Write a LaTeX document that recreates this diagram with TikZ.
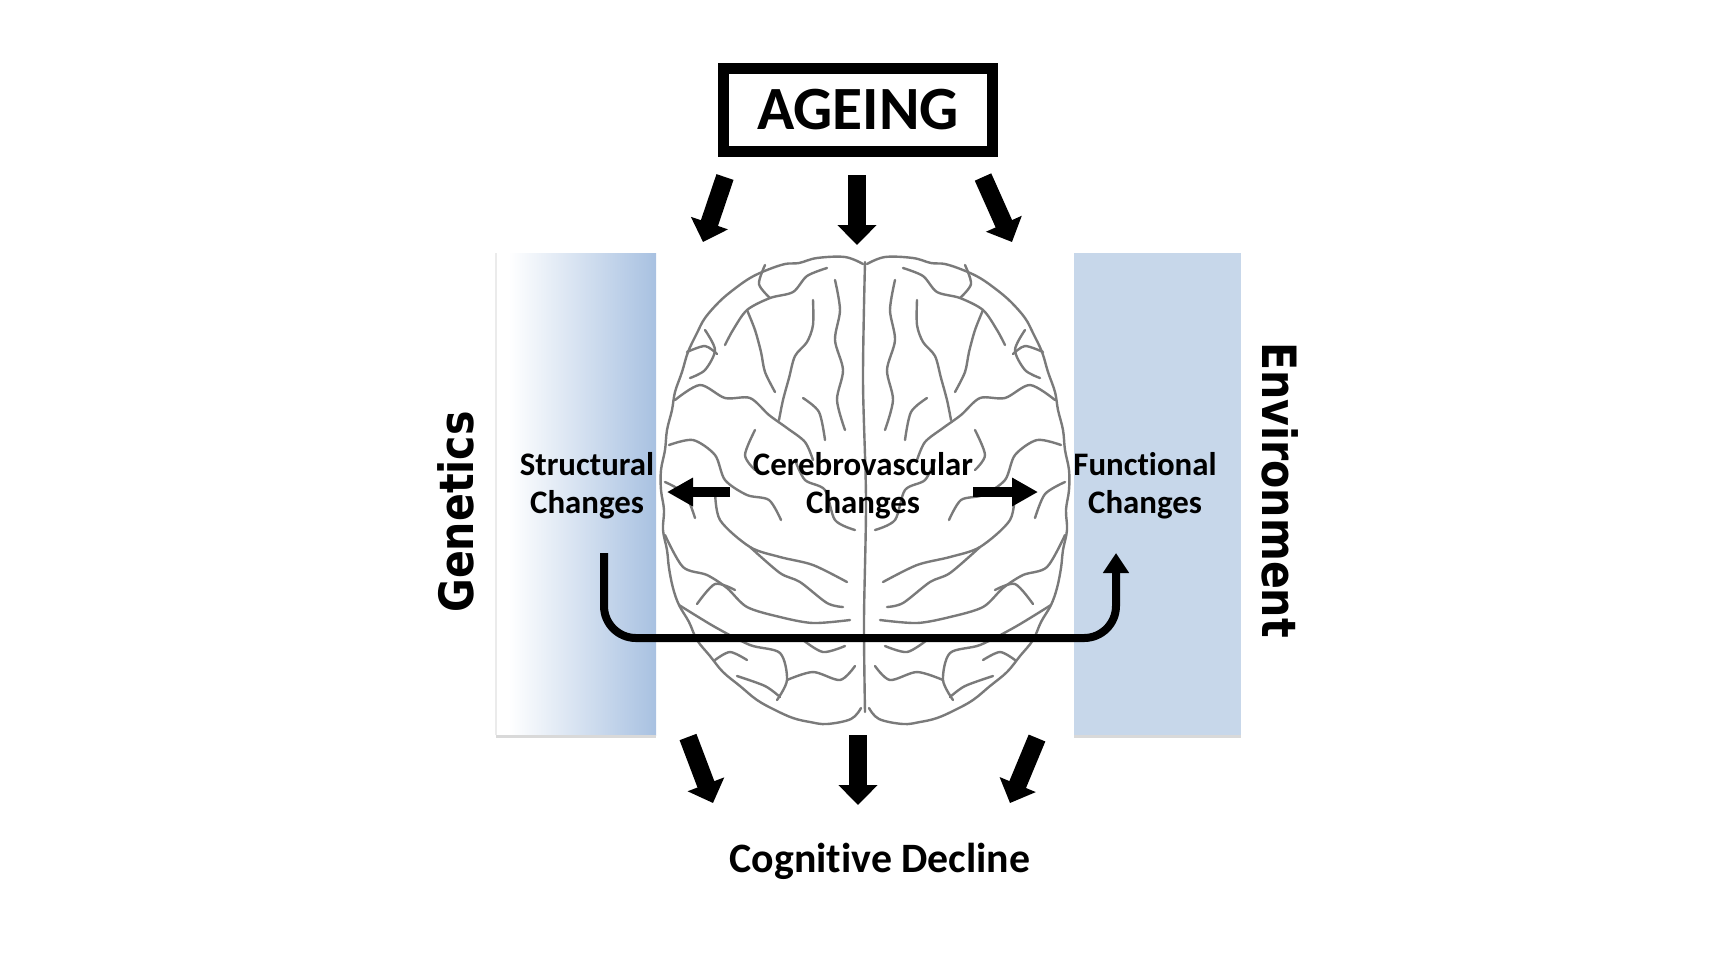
\documentclass[tikz,border=0pt]{standalone}
\usepackage{fontspec}
\usepackage{graphicx}
\setmainfont{Carlito}[Ligatures=NoCommon]
\newfontfamily\widefont{DejaVu Sans}
\usetikzlibrary{arrows.meta}

\definecolor{leftblue}{RGB}{168,193,225}
\definecolor{rightblue}{RGB}{199,215,234}
\pgfdeclarehorizontalshading{panelfade}{100bp}{color(0bp)=(white); color(25bp)=(white); color(29bp)=(white); color(75bp)=(leftblue); color(100bp)=(leftblue)}

\tikzset{
    changes/.style={align=center, inner sep=0pt, font=\bfseries\fontsize{9.35}{10.8}\selectfont},
    sidelabel/.style={inner sep=0pt, font=\widefont\bfseries\fontsize{11.7}{14}\selectfont},
    blockarrow/.style={line width=1.8mm, -{Triangle[width=3.8mm,length=2mm]}},
    sidearrow/.style={line width=1mm, -{Triangle[width=2.7mm,length=2.6mm]}},
    uarrow/.style={line width=0.8mm, rounded corners=3.2mm, -{Triangle[width=2.5mm,length=2mm]}},
    brainline/.style={draw=black!52, line width=0.24mm, line join=round, line cap=round},
    panelshadow/.style={draw=black!15, line width=0.3mm},
}

\begin{document}
\begin{tikzpicture}[x=0.1mm, y=-0.1mm]
    \fill[white] (0,0) rectangle (1710,962);
    \useasboundingbox (0,0) rectangle (1710,962);

    % side panels
    \shade[shading=panelfade] (496,253) rectangle (656,735);
    \fill[rightblue] (1074,253) rectangle (1241,735);
    \draw[panelshadow] (496,736) -- (656,736);
    \draw[panelshadow] (1074,736) -- (1241,736);
    \draw[draw=black!8, line width=0.2mm] (496,253) -- (496,735);

    % brain, left half mirrored to the right
    \foreach \s in {1,-1} {
        \begin{scope}[shift={(865,0)}, xscale=\s]
            \draw[brainline] plot[smooth, tension=0.6] coordinates {(-2,264) (-20,257) (-48,258) (-66,263) (-80,264) (-98,270) (-115,278) (-132,290) (-146,302) (-160,318) (-168,333) (-177,352) (-183,372) (-190,392) (-193,410) (-198,430) (-200,450) (-204,470) (-204,490) (-201,510) (-202,530) (-198,550) (-196,568) (-192,588) (-186,605) (-176,622) (-168,640) (-155,656) (-142,672) (-125,686) (-108,700) (-90,710) (-72,718) (-55,722) (-38,724) (-14,719) (-4,708)};
            \draw[brainline] plot[smooth] coordinates {(-38,268) (-58,276) (-72,292) (-95,298) (-118,310) (-132,330) (-140,345)};
            \draw[brainline] plot[smooth] coordinates {(-52,300) (-52,325) (-58,342) (-70,356) (-76,378) (-82,400) (-86,420)};
            \draw[brainline] plot[smooth] coordinates {(-118,310) (-110,330) (-104,352) (-100,372) (-90,392)};
            \draw[brainline] plot[smooth] coordinates {(-190,400) (-165,385) (-140,398) (-115,398) (-96,415) (-78,428) (-60,442) (-52,460)};
            \draw[brainline] plot[smooth] coordinates {(-196,445) (-172,440) (-150,455) (-140,480) (-118,495) (-96,500) (-84,520)};
            \draw[brainline] plot[smooth] coordinates {(-160,330) (-150,350) (-160,370) (-175,378)};
            \draw[brainline] plot[smooth] coordinates {(-30,280) (-25,310) (-30,340) (-22,370) (-28,400) (-20,430)};
            \draw[brainline] plot[smooth] coordinates {(-150,490) (-145,520) (-115,547) (-85,557) (-52,565) (-18,582)};
            \draw[brainline] plot[smooth] coordinates {(-200,535) (-182,567) (-158,575) (-138,588) (-118,607) (-85,617) (-52,623) (-15,620)};
            \draw[brainline] plot[smooth] coordinates {(-115,547) (-85,573) (-65,582) (-38,603) (-22,607)};
            \draw[brainline] plot[smooth] coordinates {(-186,605) (-150,627) (-115,645) (-85,653) (-78,680) (-88,700)};
            \draw[brainline] plot[smooth] coordinates {(-78,680) (-52,672) (-25,680) (-10,666)};
            \draw[brainline] plot[smooth] coordinates {(-128,676) (-100,686) (-85,697)};
            \draw[brainline] plot[smooth] coordinates {(-70,460) (-60,480) (-40,490) (-30,520) (-10,530)};
            \draw[brainline] plot[smooth] coordinates {(-110,430) (-120,455) (-110,470)};
            \draw[brainline] plot[smooth] coordinates {(-100,265) (-106,284) (-95,298)};
            \draw[brainline] plot[smooth] coordinates {(-178,352) (-160,346) (-148,354)};
            \draw[brainline] plot[smooth] coordinates {(-200,482) (-180,494) (-170,518)};
            \draw[brainline] plot[smooth] coordinates {(-62,398) (-46,412) (-40,440)};
            \draw[brainline] plot[smooth] coordinates {(-168,604) (-150,584) (-130,590)};
            \draw[brainline] plot[smooth] coordinates {(-62,640) (-42,652) (-20,646)};
            \draw[brainline] plot[smooth] coordinates {(-150,660) (-135,652) (-118,660)};
        \end{scope}
    }
    \draw[brainline] plot[smooth] coordinates {(865,262) (863,380) (866,500) (864,620) (865,712)};

    % labels
    \node[draw, line width=1.1mm, minimum width=26.9mm, minimum height=8.35mm, inner sep=0pt, font=\bfseries\fontsize{17.5}{20}\selectfont] (ageing) at (858,110) {AGEING};
    \node[changes] (structural) at (587,486) {Structural\\Changes};
    \node[changes] (cerebro) at (863,486) {Cerebrovascular\\Changes};
    \node[changes] (functional) at (1145,486) {Functional\\Changes};
    \node[sidelabel, rotate=90] (genetics) at (456,512) {\scalebox{1}[1.15]{Genetics}};
    \node[sidelabel, rotate=-90] (environment) at (1280,490) {\scalebox{1}[1.15]{Environment}};
    \node[anchor=base, font=\bfseries\fontsize{11.9}{14}\selectfont] (decline) at (880,872) {Cognitive Decline};

    % arrow ends
    \coordinate (in1) at (725,177);   \coordinate (in1e) at (703,242);
    \coordinate (in2) at (857,175);   \coordinate (in2e) at (857,245);
    \coordinate (in3) at (983,177);   \coordinate (in3e) at (1012,242);
    \coordinate (out1) at (688,737);  \coordinate (out1e) at (713,803);
    \coordinate (out2) at (858,735);  \coordinate (out2e) at (858,805);
    \coordinate (out3) at (1037,738); \coordinate (out3e) at (1010,803);
    \coordinate (toleft) at (730,492);  \coordinate (tolefte) at (667,492);
    \coordinate (toright) at (973,492); \coordinate (torighte) at (1038,492);
    \coordinate (ustart) at (604,553);  \coordinate (uend) at (1116,553);

    \draw[blockarrow] (in1) -- (in1e);
    \draw[blockarrow] (in2) -- (in2e);
    \draw[blockarrow] (in3) -- (in3e);
    \draw[blockarrow] (out1) -- (out1e);
    \draw[blockarrow] (out2) -- (out2e);
    \draw[blockarrow] (out3) -- (out3e);
    \draw[sidearrow] (toleft) -- (tolefte);
    \draw[sidearrow] (toright) -- (torighte);
    \draw[uarrow] (ustart) -- ++(0,85) -| (uend);
\end{tikzpicture}
\end{document}
